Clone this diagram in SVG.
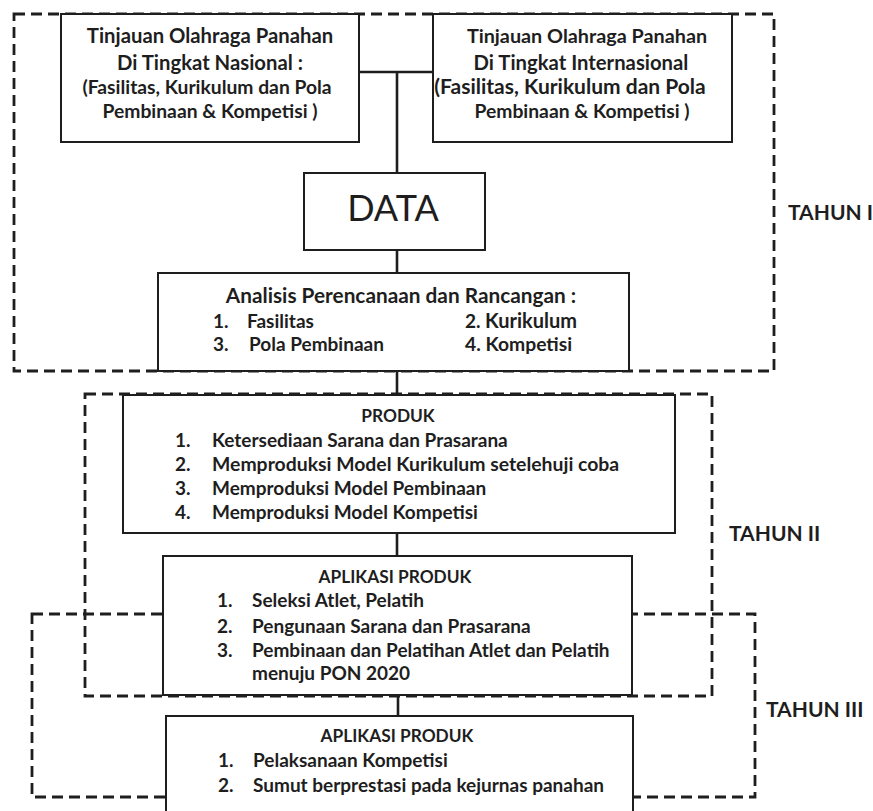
<svg xmlns="http://www.w3.org/2000/svg" width="873" height="811" viewBox="0 0 873 811">
<style>
.bg{fill:#ffffff}
.box{fill:#ffffff;stroke:#1e1e1e;stroke-width:2}
.dash{fill:none;stroke:#1e1e1e;stroke-width:2.8;stroke-dasharray:11 6}
.con{fill:none;stroke:#1e1e1e;stroke-width:2.6}
text{font-family:Lato,"Liberation Sans",sans-serif;fill:#1e1e1e;font-weight:bold}
.t{font-size:20.3px}
.u{font-size:19.3px}
.s{font-size:19px}
.h{font-size:17.3px}
.c{text-anchor:middle}
.big{font-size:36px;font-weight:normal}
.lab{font-size:21px}
</style>
<rect class="bg" x="0" y="0" width="873" height="811"/>

<g id="groups">
<rect class="dash" x="14" y="14" width="760" height="357"/>
<rect class="dash" x="85" y="394" width="627" height="302"/>
<rect class="dash" x="32" y="614" width="723" height="183"/>
</g>

<g id="connectors">
<line class="con" x1="359" y1="72" x2="433" y2="72"/>
<line class="con" x1="397" y1="72" x2="397" y2="173"/>
<line class="con" x1="397" y1="250" x2="397" y2="273"/>
<line class="con" x1="397" y1="371" x2="397" y2="395"/>
<line class="con" x1="397" y1="533" x2="397" y2="556"/>
<line class="con" x1="398" y1="695" x2="398" y2="716"/>
</g>

<g id="nasional">
<rect class="box" x="61" y="14" width="298" height="128"/>
<text class="t c" x="210" y="43">Tinjauan Olahraga Panahan</text>
<text class="t c" x="210" y="70">Di Tingkat Nasional :</text>
<text class="u c" x="207" y="94">(Fasilitas, Kurikulum dan Pola</text>
<text class="u c" x="210" y="118">Pembinaan &amp; Kompetisi )</text>
</g>

<g id="internasional">
<rect class="box" x="433" y="14" width="299" height="128"/>
<text class="u c" x="587" y="43" style="font-size:19.8px">Tinjauan Olahraga Panahan</text>
<text class="t c" x="581" y="70">Di Tingkat Internasional</text>
<text class="c" x="570" y="94" style="font-size:21px">(Fasilitas, Kurikulum dan Pola</text>
<text class="u c" x="582" y="118">Pembinaan &amp; Kompetisi )</text>
</g>

<g id="data">
<rect class="box" x="304" y="173" width="181" height="77"/>
<text class="big c" x="393" y="221">DATA</text>
</g>

<g id="analisis">
<rect class="box" x="158" y="273" width="471" height="98"/>
<text class="t c" x="401" y="303" style="font-size:20.8px">Analisis Perencanaan dan Rancangan :</text>
<text class="s" x="213" y="328">1.</text>
<text class="s" x="247" y="328">Fasilitas</text>
<text class="s" x="465" y="328">2.</text>
<text class="s" x="485" y="328" style="font-size:20px">Kurikulum</text>
<text class="s" x="213" y="351">3.</text>
<text class="s" x="249" y="351">Pola Pembinaan</text>
<text class="s" x="465" y="351" style="font-size:19.3px">4. Kompetisi</text>
</g>

<g id="produk">
<rect class="box" x="123" y="395" width="552" height="138"/>
<text class="h c" x="398" y="422">PRODUK</text>
<text class="s" x="175" y="447">1.</text>
<text class="s" x="212" y="447">Ketersediaan Sarana dan Prasarana</text>
<text class="s" x="175" y="471">2.</text>
<text class="s" x="212" y="471" style="font-size:19.4px">Memproduksi Model Kurikulum setelehuji coba</text>
<text class="s" x="175" y="495">3.</text>
<text class="s" x="212" y="495">Memproduksi Model Pembinaan</text>
<text class="s" x="175" y="519">4.</text>
<text class="s" x="212" y="519">Memproduksi Model Kompetisi</text>
</g>

<g id="aplikasi1">
<rect class="box" x="163" y="556" width="469" height="139"/>
<text class="h c" x="395" y="583">APLIKASI PRODUK</text>
<text class="s" x="217" y="607">1.</text>
<text class="s" x="252" y="607">Seleksi Atlet, Pelatih</text>
<text class="s" x="217" y="633">2.</text>
<text class="s" x="252" y="633">Pengunaan Sarana dan Prasarana</text>
<text class="s" x="217" y="657">3.</text>
<text class="s" x="252" y="657">Pembinaan dan Pelatihan Atlet dan Pelatih</text>
<text class="s" x="252" y="680">menuju PON 2020</text>
</g>

<g id="aplikasi2">
<rect class="box" x="166" y="716" width="467" height="110"/>
<text class="h c" x="397" y="742">APLIKASI PRODUK</text>
<text class="s" x="218" y="767">1.</text>
<text class="s" x="253" y="767">Pelaksanaan Kompetisi</text>
<text class="s" x="218" y="792">2.</text>
<text class="s" x="253" y="792">Sumut berprestasi pada kejurnas panahan</text>
</g>

<g id="labels">
<text class="lab" x="788" y="220">TAHUN I</text>
<text class="lab" x="729" y="541">TAHUN II</text>
<text class="lab" x="766" y="717">TAHUN III</text>
</g>
</svg>
